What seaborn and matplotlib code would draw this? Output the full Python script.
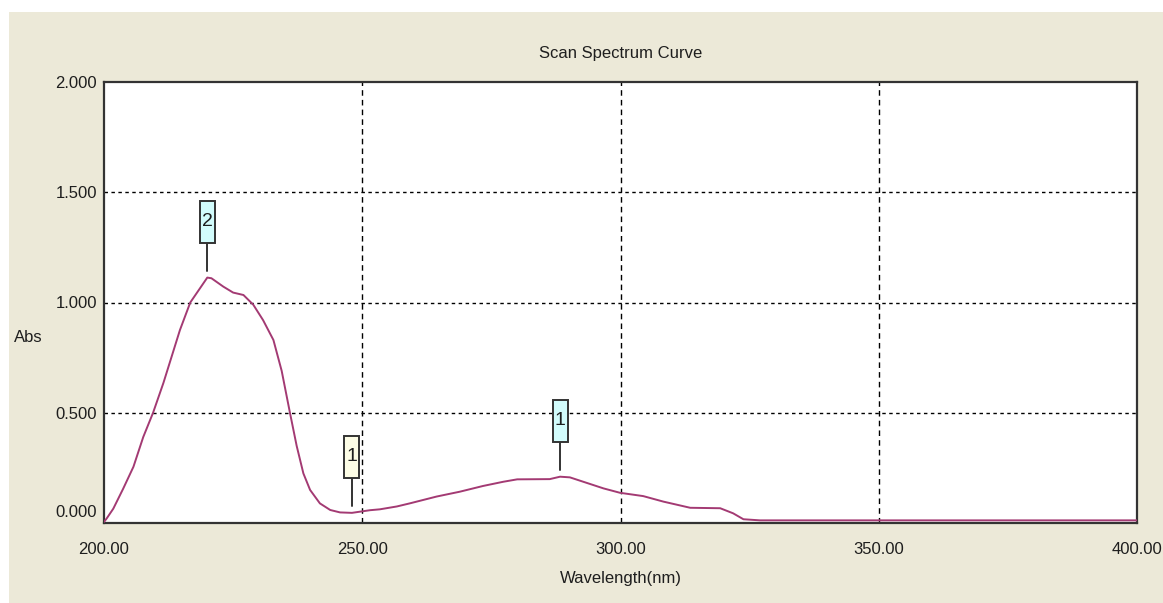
import numpy as np
import pandas as pd
import seaborn as sns
import matplotlib
matplotlib.use("Agg")
import matplotlib.pyplot as plt
from matplotlib.patches import Rectangle
from matplotlib.lines import Line2D
from matplotlib.transforms import ScaledTranslation

# ---------------- data ----------------
wavelength = [200.0, 200.5, 201.8, 203.7, 205.7, 207.6, 209.5, 211.5, 213.1, 214.7,
              216.7, 218.6, 220.0, 220.8, 223.1, 225.0, 227.0, 228.9, 230.8, 232.8,
              234.4, 236.0, 237.3, 238.6, 239.9, 241.8, 243.8, 245.7, 248.0, 251.5,
              253.4, 256.7, 259.2, 264.4, 268.9, 273.4, 277.3, 280.0, 286.3, 288.3,
              290.2, 292.8, 296.7, 299.9, 304.4, 308.3, 313.5, 319.3, 321.8, 323.8,
              327.0, 400.0]
absorbance = [0.005, 0.02, 0.065, 0.155, 0.255, 0.39, 0.50, 0.635, 0.755, 0.875,
              1.00, 1.065, 1.113, 1.11, 1.072, 1.045, 1.034, 0.99, 0.92, 0.83,
              0.69, 0.50, 0.35, 0.225, 0.15, 0.089, 0.059, 0.048, 0.046, 0.058,
              0.062, 0.075, 0.089, 0.12, 0.142, 0.168, 0.187, 0.198, 0.199, 0.21,
              0.207, 0.187, 0.157, 0.137, 0.122, 0.097, 0.069, 0.067, 0.044, 0.017,
              0.012, 0.012]

peak_wavelength = [220.0, 248.0, 288.3]
peak_abs = [1.113, 0.046, 0.21]
peak_labels = ["2", "1", "1"]

x_ticks = [200, 250, 300, 350, 400]
x_tick_labels = ["200.00", "250.00", "300.00", "350.00", "400.00"]
y_ticks = [0.0, 0.5, 1.0, 1.5, 2.0]
y_tick_labels = ["0.000", "0.500", "1.000", "1.500", "2.000"]

title = "Scan Spectrum Curve"
x_label = "Wavelength(nm)"
y_label = "Abs"

# ---------------- style ----------------
sns.set_theme(style="white")
plt.rcParams['font.family'] = ['Liberation Sans Narrow', 'Liberation Sans', 'DejaVu Sans']

BEIGE = "#ECE9D8"
LINE = "#A33A73"
box_colors = ["#D2FCFC", "#FDFDE6", "#D2FCFC"]
FS = 12
TXT = "#1E1E1E"

W, H = 1163, 603
fig = plt.figure(figsize=(W / 100, H / 100), dpi=100, facecolor="white")
fig.patches.append(Rectangle((9 / W, 0), 1 - 9 / W, (H - 12) / H,
                             transform=fig.transFigure, facecolor=BEIGE,
                             edgecolor="none", zorder=-10))

ax = fig.add_axes([104 / W, 1 - 523 / H, (1137 - 104) / W, (523 - 82) / H])
ax.set_facecolor("white")

df = pd.DataFrame({"wavelength": wavelength, "absorbance": absorbance})
sns.lineplot(data=df, x="wavelength", y="absorbance", ax=ax, color=LINE,
             linewidth=1.4, estimator=None, sort=False, zorder=3)

ax.set_xlim(200, 400)
ax.set_ylim(0, 2.0)
ax.set_xticks(x_ticks)
ax.set_xticklabels(x_tick_labels, fontsize=FS, color=TXT)
ax.set_yticks(y_ticks)
ax.set_yticklabels(y_tick_labels, fontsize=FS, color=TXT)
ax.tick_params(axis="both", length=0)
ax.tick_params(axis="x", pad=14)
ax.tick_params(axis="y", pad=5)

# grid
for xv in x_ticks[1:-1]:
    ax.axvline(xv, color="black", linewidth=1.0, linestyle=(0, (4, 3)), zorder=1)
for yv in y_ticks[1:-1]:
    ax.axhline(yv, color="black", linewidth=1.0, linestyle=(0, (2.5, 2.5)), zorder=1)

for sp in ax.spines.values():
    sp.set_color("#333333")
    sp.set_linewidth(1.6)
    sp.set_visible(True)

ax.set_xlabel(x_label, fontsize=FS, color=TXT, labelpad=10)
ax.set_ylabel("")
ax.set_title(title, fontsize=FS, color=TXT, pad=17)
fig.text(28 / W, 1 - 338 / H, y_label, fontsize=FS, color=TXT,
         ha="center", va="center")

# shift the 0.000 label up a bit like the original
fig.canvas.draw()
lab0 = ax.get_yticklabels()[0]
lab0.set_transform(lab0.get_transform() + ScaledTranslation(0, 12 / 100, fig.dpi_scale_trans))

# peak markers
for xv, yv, lab, fc in zip(peak_wavelength, peak_abs, peak_labels, box_colors):
    tr = fig.dpi_scale_trans + ScaledTranslation(xv, yv, ax.transData)
    ax.add_line(Line2D([0, 0], [7 / 100, 35 / 100], transform=tr, color="#333333",
                       linewidth=1.4, zorder=5))
    ax.add_patch(Rectangle((-7.5 / 100, 35 / 100), 15 / 100, 42 / 100, transform=tr,
                           facecolor=fc, edgecolor="#333333", linewidth=1.4, zorder=6))
    ax.text(0, 56 / 100, lab, transform=tr, ha="center", va="center",
            fontsize=FS + 2, color=TXT, zorder=7)

fig.savefig("out.png", dpi=100, facecolor=fig.get_facecolor())
